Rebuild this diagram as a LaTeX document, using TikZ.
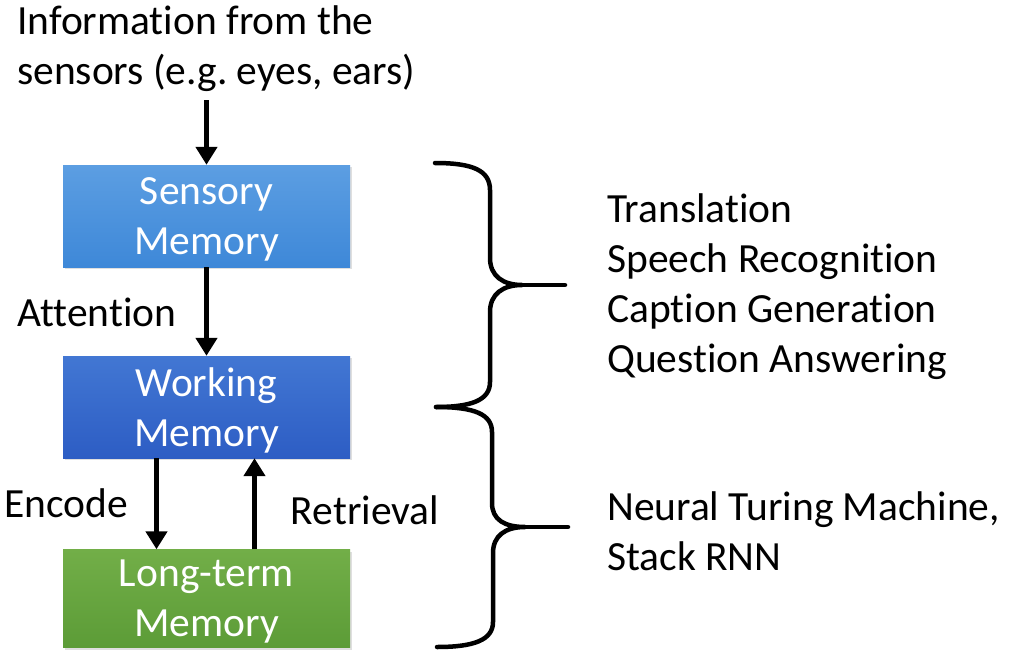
\documentclass[tikz,border=0pt]{standalone}
\usepackage{fontspec}
\setmainfont{Carlito}[RawFeature={-liga}]
\frenchspacing
\usetikzlibrary{arrows.meta,shadows}
\definecolor{sensT}{HTML}{5C9EE2}
\definecolor{sensB}{HTML}{3E88D8}
\definecolor{workT}{HTML}{4277D3}
\definecolor{workB}{HTML}{2D5DC4}
\definecolor{longT}{HTML}{72AE48}
\definecolor{longB}{HTML}{5C9C37}
\newcommand{\boxtext}[1]{\raisebox{-3pt}[\height][\depth]{\parbox{280pt}{\centering #1}}}
\tikzset{
  txt/.style={inner sep=0pt, font=\fontsize{41.5}{50}\selectfont, text=black},
  membox/.style={minimum width=287pt, inner sep=0pt, align=center,
    font=\fontsize{41.5}{50}\selectfont, text=white,
    drop shadow={shadow xshift=1.5pt, shadow yshift=-2pt, opacity=0.25}},
  arr/.style={line width=4.8pt, -{Triangle[width=21pt,length=18pt]}},
  brace/.style={line width=4.5pt, line cap=round, line join=round}
}
\begin{document}
\begin{tikzpicture}[x=1pt,y=-1pt]
\useasboundingbox (0,0) rectangle (1013,656);
\fill[white] (0,0) rectangle (1013,656);
% boxes
\node[membox, minimum height=102pt, top color=sensT, bottom color=sensB] (sens) at (206.5,216) {\boxtext{Sensory\\Memory}};
\node[membox, minimum height=102pt, top color=workT, bottom color=workB] (work) at (206.5,407) {\boxtext{Working\\Memory}};
\node[membox, minimum height=98pt, top color=longT, bottom color=longB] (long) at (206.5,598.5) {\boxtext{Long-term\\Memory}};
% texts
\node[txt, anchor=west, align=left] (info) at (17,49) {Information from the\\sensors (e.g. eyes, ears)};
\node[txt] (att) at (97,312) {Attention};
\node[txt] (enc) at (66,503) {Encode};
\node[txt] (ret) at (365,510) {Retrieval};
\node[txt, anchor=west, align=left] (apps) at (607,287) {Translation\\Speech Recognition\\Caption Generation\\Question Answering};
\node[txt, anchor=west, align=left] (ntm) at (607,531) {Neural Turing Machine,\\Stack RNN};
% arrows
\draw[arr] ([yshift=-8pt]info.south -| sens.north) -- (sens.north);
\draw[arr] (sens.south) -- (work.north);
\draw[arr] ([xshift=-50pt]work.south) -- ([xshift=-50pt]long.north);
\draw[arr] ([xshift=48pt]long.north) -- ([xshift=48pt]work.south);
% braces
\coordinate (b1) at (565,285);
\coordinate (b2) at (568,527);
\draw[brace] (435,163) .. controls (472,163) and (490,170) .. (490,190)
  -- (490,258) .. controls (490,276) and (503,285) .. (522,285)
  .. controls (503,285) and (490,294) .. (490,312)
  -- (490,382) .. controls (490,400) and (472,407) .. (436,407);
\draw[brace] (522,285) -- (b1);
\draw[brace] (436,407) .. controls (474,407) and (492,414) .. (492,432)
  -- (492,503) .. controls (492,520) and (505,527) .. (525,527)
  .. controls (505,527) and (493,536) .. (493,553)
  -- (493,622) .. controls (493,640) and (474,647) .. (437,647);
\draw[brace] (525,527) -- (b2);
\end{tikzpicture}
\end{document}
